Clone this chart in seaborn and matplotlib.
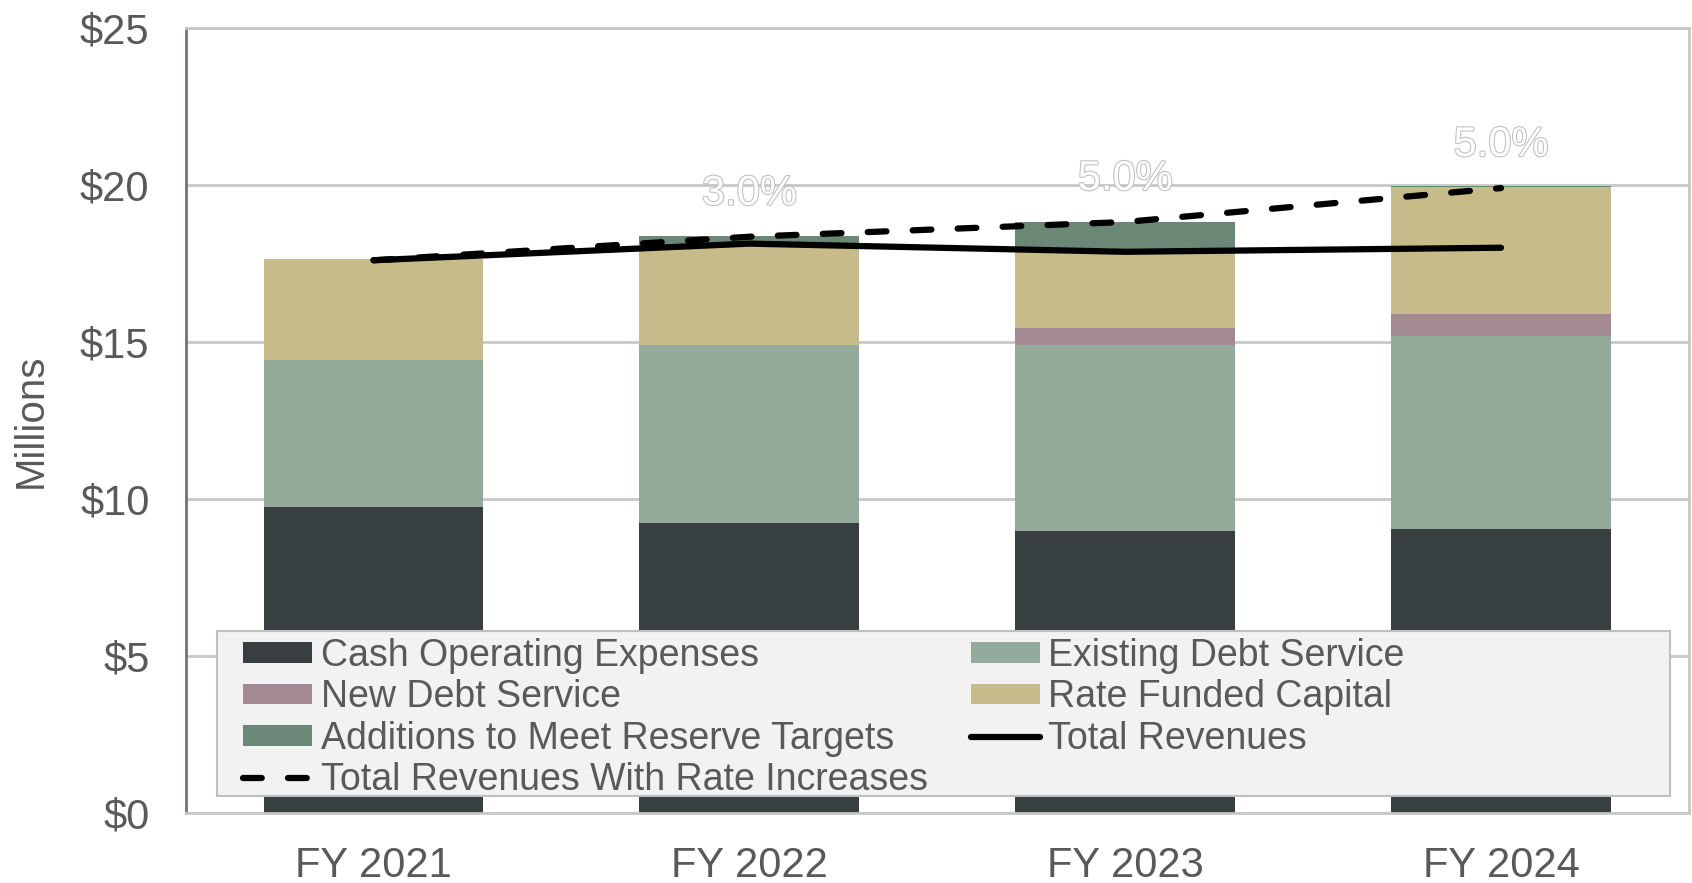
import numpy as np
import pandas as pd
import matplotlib
matplotlib.use("Agg")
import matplotlib.pyplot as plt
import matplotlib.patheffects as pe
from matplotlib.patches import Patch, Rectangle
from matplotlib.lines import Line2D
import seaborn as sns

# Values in $ millions
years = ["FY 2021", "FY 2022", "FY 2023", "FY 2024"]
cash_opex = [9.73, 9.22, 8.98, 9.03]
existing_debt = [4.68, 5.68, 5.91, 6.16]
new_debt = [0.0, 0.0, 0.54, 0.71]
rate_funded_capital = [3.22, 3.20, 2.47, 4.03]
reserve_additions = [0.0, 0.28, 0.92, 0.03]
total_revenues = [17.6, 18.13, 17.87, 18.0]
revenues_with_increases = [17.6, 18.35, 18.82, 19.9]
rate_increase_labels = ["", "3.0%", "5.0%", "5.0%"]

seg_names = ["Cash Operating Expenses", "Existing Debt Service", "New Debt Service",
             "Rate Funded Capital", "Additions to Meet Reserve Targets"]
seg_colors = ["#373F41", "#94AA9B", "#A38993", "#C7BB89", "#6B8876"]
text_col = "#595959"
grid_col = "#C8C8C8"

sns.set_style("white")
plt.rcParams["font.family"] = ["Liberation Sans", "DejaVu Sans"]

fig = plt.figure(figsize=(16.92, 8.83), dpi=100)
ax = fig.add_axes([0.1097, 0.0796, 0.8885, 0.8887])

# stacked bars: draw cumulative totals from the top down
stack = np.cumsum(np.array([cash_opex, existing_debt, new_debt,
                            rate_funded_capital, reserve_additions]), axis=0)
for i in reversed(range(len(seg_names))):
    sns.barplot(x=years, y=stack[i], color=seg_colors[i], saturation=1,
                width=0.585, linewidth=0, ax=ax, zorder=2)

df = pd.DataFrame({"year": years, "total": total_revenues,
                   "with_increase": revenues_with_increases})
dash = (0, (3, 4.2))
sns.lineplot(data=df, x="year", y="with_increase", color="black", lw=4.5,
             linestyle=dash, dash_capstyle="round", sort=False, ax=ax, zorder=4)
sns.lineplot(data=df, x="year", y="total", color="black", lw=4.5,
             solid_capstyle="round", sort=False, ax=ax, zorder=4)

# rate increase labels above the dashed line
for i, lab in enumerate(rate_increase_labels):
    if lab:
        ax.text(i, revenues_with_increases[i] + 1.37, lab, ha="center", va="center",
                fontsize=30, color="white", zorder=6,
                path_effects=[pe.withStroke(linewidth=1.5, foreground="#BFBFBF")])

ax.set_xlim(-0.5, 3.5)
ax.set_ylim(0, 25)
ax.set_yticks(range(0, 26, 5))
ax.set_yticklabels([f"${v}" for v in range(0, 26, 5)])
ax.set_xlabel("")
ax.set_ylabel("Millions", fontsize=29, color=text_col, labelpad=22)
ax.tick_params(axis="both", length=0, labelsize=30, labelcolor=text_col)
ax.tick_params(axis="y", pad=26)
ax.tick_params(axis="x", pad=24)

ax.set_axisbelow(True)
ax.yaxis.grid(True, color=grid_col, lw=2)
for side in ["top", "right", "bottom"]:
    ax.spines[side].set_color(grid_col)
    ax.spines[side].set_linewidth(2)
ax.spines["left"].set_color("#7B6F76")
ax.spines["left"].set_linewidth(2)

# legend box drawn separately so it can span the plot width
ax.add_patch(Rectangle((0.0209, 0.0213), 0.9665, 0.2103, transform=ax.transAxes,
                       facecolor="#F2F2F2", edgecolor="#BFBFBF", lw=1.5,
                       zorder=4.8, clip_on=False))

patch = {n: Patch(facecolor=c, edgecolor="none") for n, c in zip(seg_names, seg_colors)}
line_total = Line2D([], [], color="black", lw=4.5, solid_capstyle="round")
line_incr = Line2D([], [], color="black", lw=4.5, linestyle=dash, dash_capstyle="round")
handles = [patch[seg_names[0]], patch[seg_names[2]], patch[seg_names[4]], line_incr,
           patch[seg_names[1]], patch[seg_names[3]], line_total]
labels = [seg_names[0], seg_names[2], seg_names[4], "Total Revenues With Rate Increases",
          seg_names[1], seg_names[3], "Total Revenues"]
leg = ax.legend(handles, labels, ncol=2, loc="upper left", bbox_to_anchor=(0.0382, 0.2226),
                frameon=False, fontsize=27, handlelength=1.85, handleheight=0.48,
                handletextpad=0.22, columnspacing=1.15, labelspacing=0.14,
                borderpad=0, borderaxespad=0)
for t in leg.get_texts():
    t.set_color(text_col)

fig.savefig("out.png", dpi=100)
